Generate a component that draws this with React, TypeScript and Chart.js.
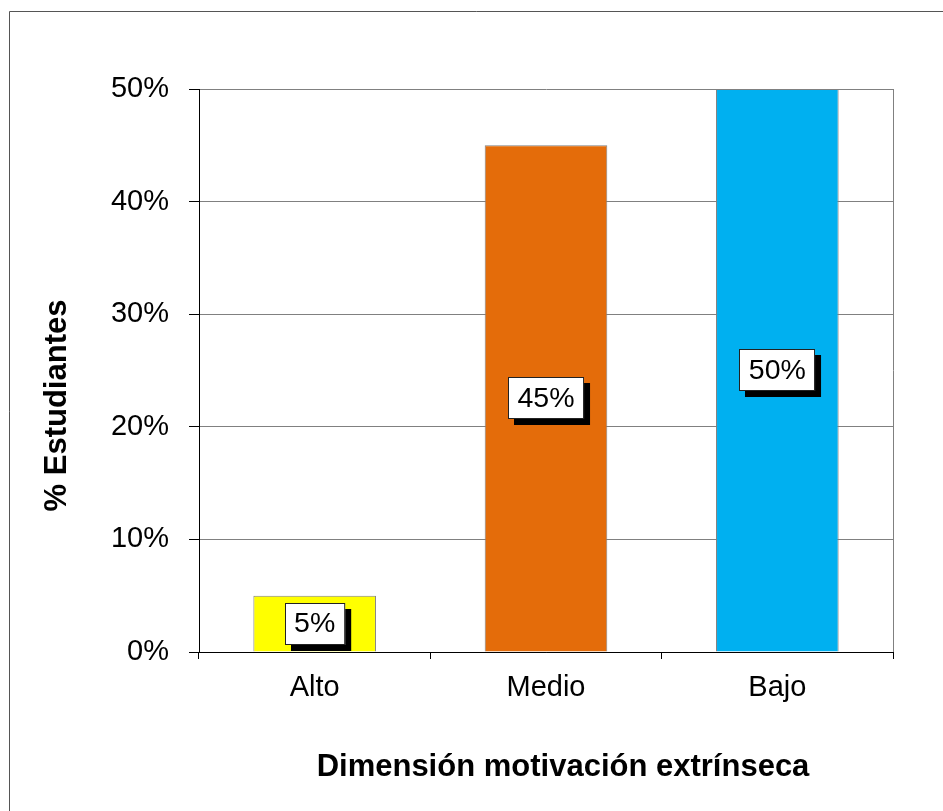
import React, { useEffect, useRef } from "react";
import { Chart, registerables } from "chart.js";

Chart.register(...registerables);

const categories: string[] = ["Alto", "Medio", "Bajo"];
const values: number[] = [5, 45, 50];
const barColors: string[] = ["#FFFF00", "#E46C0A", "#00B0F0"];
const yTicks: number[] = [0, 10, 20, 30, 40, 50];
const yTitle = "% Estudiantes";
const xTitle = "Dimensión motivación extrínseca";

const FONT = "'Liberation Sans', Arial, Helvetica, sans-serif";

const decorPlugin = {
  id: "decor",
  beforeDraw(chart: any) {
    const ctx = chart.ctx;
    ctx.save();
    ctx.fillStyle = "#ffffff";
    ctx.fillRect(0, 0, chart.width, chart.height);
    ctx.strokeStyle = "#555555";
    ctx.lineWidth = 1;
    ctx.beginPath();
    ctx.moveTo(9.5, chart.height);
    ctx.lineTo(9.5, 11.5);
    ctx.lineTo(chart.width, 11.5);
    ctx.stroke();
    const a = chart.chartArea;
    ctx.strokeStyle = "#808080";
    ctx.beginPath();
    ctx.moveTo(Math.round(a.right) + 0.5, a.top);
    ctx.lineTo(Math.round(a.right) + 0.5, a.bottom);
    ctx.stroke();
    ctx.restore();
  },
  afterDraw(chart: any) {
    const ctx = chart.ctx;
    const a = chart.chartArea;
    ctx.save();
    ctx.fillStyle = "#000000";
    ctx.font = `bold 31px ${FONT}`;
    ctx.textAlign = "center";
    ctx.textBaseline = "middle";
    ctx.fillText(xTitle, (a.left + a.right) / 2 + 17, a.bottom + 115);
    ctx.translate(a.left - 142, (a.top + a.bottom) / 2 + 35);
    ctx.rotate(-Math.PI / 2);
    ctx.fillText(yTitle, 0, 0);
    ctx.restore();
  },
  afterDatasetsDraw(chart: any) {
    const ctx = chart.ctx;
    const meta = chart.getDatasetMeta(0);
    ctx.save();
    ctx.font = `28.5px ${FONT}`;
    ctx.textAlign = "center";
    ctx.textBaseline = "middle";
    meta.data.forEach((bar: any, i: number) => {
      const label = values[i] + "%";
      const w = ctx.measureText(label).width + 19;
      const h = 42;
      const cx = bar.x;
      const cy = (bar.y + bar.base) / 2;
      const x0 = Math.round(cx - w / 2);
      const y0 = Math.round(cy - h / 2);
      ctx.fillStyle = "#000000";
      ctx.fillRect(x0 + 6, y0 + 6, w, h);
      ctx.fillStyle = "#ffffff";
      ctx.fillRect(x0, y0, w, h);
      ctx.strokeStyle = "#222222";
      ctx.lineWidth = 1;
      ctx.strokeRect(x0 + 0.5, y0 + 0.5, w - 1, h - 1);
      ctx.fillStyle = "#000000";
      ctx.fillText(label, cx, cy + 1);
    });
    ctx.restore();
  },
};

export default function App() {
  const ref = useRef<HTMLCanvasElement | null>(null);
  useEffect(() => {
    if (!ref.current) return;
    const chart = new Chart(ref.current, {
      type: "bar",
      data: {
        labels: categories,
        datasets: [
          {
            data: values,
            backgroundColor: barColors,
            borderColor: "#808080",
            borderWidth: 1,
            barPercentage: 0.53,
            categoryPercentage: 1,
          },
        ],
      },
      options: {
        animation: false,
        responsive: false,
        maintainAspectRatio: false,
        layout: { padding: { left: 0, top: 89, right: 50, bottom: 0 } },
        plugins: { legend: { display: false }, tooltip: { enabled: false } },
        scales: {
          x: {
            afterFit: (s: any) => {
              s.height = 159;
            },
            grid: {
              offset: true,
              drawOnChartArea: false,
              drawTicks: true,
              tickLength: 7,
              tickColor: "#000000",
              color: "#000000",
            },
            border: { display: true, color: "#000000", width: 1 },
            ticks: {
              color: "#000000",
              font: { family: FONT, size: 29 },
              padding: 12,
              maxRotation: 0,
            },
          },
          y: {
            min: yTicks[0],
            max: yTicks[yTicks.length - 1],
            afterFit: (s: any) => {
              s.width = 199;
            },
            afterBuildTicks: (s: any) => {
              s.ticks = yTicks.map((v) => ({ value: v }));
            },
            grid: {
              color: (c: any) => (c.tick && c.tick.value === 0 ? "#000000" : "#808080"),
              lineWidth: 1,
              drawTicks: true,
              tickLength: 10,
              tickColor: "#000000",
            },
            border: { display: true, color: "#000000", width: 1 },
            ticks: {
              color: "#000000",
              font: { family: FONT, size: 29 },
              padding: 20,
              callback: (v: any) => v + "%",
            },
          },
        },
      },
      plugins: [decorPlugin],
    });
    return () => chart.destroy();
  }, []);
  return (
    <div style={{ position: "absolute", left: 0, top: 0, width: 943, height: 811, background: "#fff" }}>
      <canvas ref={ref} width={943} height={811} style={{ display: "block", width: 943, height: 811 }} />
    </div>
  );
}
